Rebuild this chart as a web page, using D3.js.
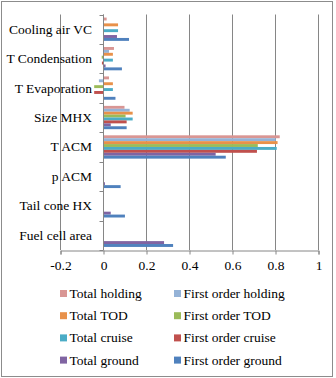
<!DOCTYPE html>
<html>
<head>
<meta charset="utf-8">
<script src="https://cdn.jsdelivr.net/npm/d3@7"></script>
<style>
  body { margin: 0; background: #fff; }
  text { font-family: "Liberation Serif", "Times New Roman", serif; fill: #000; }
</style>
</head>
<body>
<div id="chart"></div>
<script>
// catégories, de haut en bas
const categories = ["Cooling air VC", "T Condensation", "T Evaporation", "Size MHX",
  "T ACM", "p ACM", "Tail cone HX", "Fuel cell area"];

// séries, de haut en bas dans chaque groupe
const seriesNames = ["Total holding", "First order holding", "Total TOD", "First order TOD",
  "Total cruise", "First order cruise", "Total ground", "First order ground"];
const seriesColors = ["#D99694", "#95B3D7", "#E8914A", "#9BBB59",
  "#4BACC6", "#C0504D", "#8064A2", "#4F81BD"];

// valeurs par série (même ordre que categories)
const totalHolding      = [0.017, 0.051, 0.028, 0.100, 0.822, 0.003, 0, 0];
const firstOrderHolding = [0.004, 0.028, -0.019, 0.124, 0.803, 0, 0, 0];
const totalTOD          = [0.070, 0.046, 0.046, 0.138, 0.812, 0, 0, 0];
const firstOrderTOD     = [0.003, -0.006, -0.041, 0.105, 0.720, 0, 0, 0];
const totalCruise       = [0.070, 0.046, 0.046, 0.138, 0.808, 0, 0, 0];
const firstOrderCruise  = [0.004, -0.005, -0.041, 0.110, 0.716, 0, 0, 0];
const totalGround       = [0.065, 0.012, 0.004, 0.036, 0.524, 0.009, 0.036, 0.284];
const firstOrderGround  = [0.121, 0.088, 0.058, 0.110, 0.571, 0.082, 0.102, 0.326];

const seriesValues = [totalHolding, firstOrderHolding, totalTOD, firstOrderTOD,
  totalCruise, firstOrderCruise, totalGround, firstOrderGround];

const xTicks = [-0.2, 0, 0.2, 0.4, 0.6, 0.8, 1];
const xTickLabels = ["-0.2", "0", "0.2", "0.4", "0.6", "0.8", "1"];

//---------------------------------------------------------------------------------------

const W = 336, H = 378;
const plot = { left: 60, right: 318, top: 14.5, bottom: 250 };

const svg = d3.select("#chart").append("svg")
  .attr("width", W).attr("height", H);

// cadre extérieur
svg.append("rect")
  .attr("x", 1.5).attr("y", 1.5)
  .attr("width", 331).attr("height", 375)
  .attr("fill", "none").attr("stroke", "#8c8c8c").attr("stroke-width", 1);

// échelles
const x = d3.scaleLinear().domain([-0.2, 1]).range([plot.left, plot.right]);
const y = d3.scaleBand().domain(categories).range([plot.top, plot.bottom]).padding(0);
const gap = y.bandwidth() * 0.104;
const ySeries = d3.scaleBand().domain(seriesNames).range([gap, y.bandwidth() - gap]);

// grille verticale
svg.append("g").selectAll("line")
  .data(xTicks)
  .join("line")
  .attr("x1", d => Math.round(x(d)) + 0.5).attr("x2", d => Math.round(x(d)) + 0.5)
  .attr("y1", plot.top).attr("y2", plot.bottom)
  .attr("stroke", "#868686").attr("stroke-width", 1);

// barres
const groups = svg.append("g").selectAll("g")
  .data(categories)
  .join("g")
  .attr("transform", d => `translate(0, ${y(d)})`);

groups.selectAll("rect")
  .data((c, i) => seriesNames.map((s, k) => ({ s, v: seriesValues[k][i], color: seriesColors[k] })))
  .join("rect")
  .attr("x", d => x(Math.min(0, d.v)))
  .attr("width", d => Math.abs(x(d.v) - x(0)))
  .attr("y", d => ySeries(d.s))
  .attr("height", ySeries.bandwidth())
  .attr("fill", d => d.color);

// axe horizontal
const xAxis = d3.axisBottom(x).tickValues(xTicks).tickSize(4)
  .tickFormat((d, i) => xTickLabels[i]);
const gx = svg.append("g")
  .attr("transform", `translate(0.5, ${plot.bottom + 0.5})`)
  .call(xAxis);
gx.select(".domain").attr("stroke", "#868686");
gx.selectAll(".tick line").attr("stroke", "#868686");
gx.selectAll(".tick text")
  .attr("font-size", 13.5).attr("dy", "0.95em");

// axe vertical (à x = 0)
const x0 = Math.round(x(0)) + 0.5;
svg.append("line")
  .attr("x1", x0).attr("x2", x0)
  .attr("y1", plot.top).attr("y2", plot.bottom)
  .attr("stroke", "#868686");
const bounds = categories.map(c => y(c)).concat([plot.bottom]);
svg.append("g").selectAll("line")
  .data(bounds)
  .join("line")
  .attr("x1", x0 - 4).attr("x2", x0)
  .attr("y1", d => Math.round(d) + 0.5).attr("y2", d => Math.round(d) + 0.5)
  .attr("stroke", "#868686");

// étiquettes des catégories
svg.append("g").selectAll("text")
  .data(categories)
  .join("text")
  .attr("x", 92)
  .attr("y", d => y(d) + y.bandwidth() / 2 + 4.5)
  .attr("text-anchor", "end")
  .attr("font-size", 13.5)
  .text(d => d);

// légende (2 colonnes)
const legend = svg.append("g");
const items = legend.selectAll("g")
  .data(seriesNames)
  .join("g")
  .attr("transform", (d, i) => `translate(${i % 2 === 0 ? 60 : 174}, ${293.5 + Math.floor(i / 2) * 22.2})`);
items.append("rect")
  .attr("x", 0).attr("y", -3.5)
  .attr("width", 7).attr("height", 7)
  .attr("fill", (d, i) => seriesColors[i]);
items.append("text")
  .attr("x", 9.5).attr("y", 4.5)
  .attr("font-size", 13.5)
  .text(d => d);
</script>
</body>
</html>
